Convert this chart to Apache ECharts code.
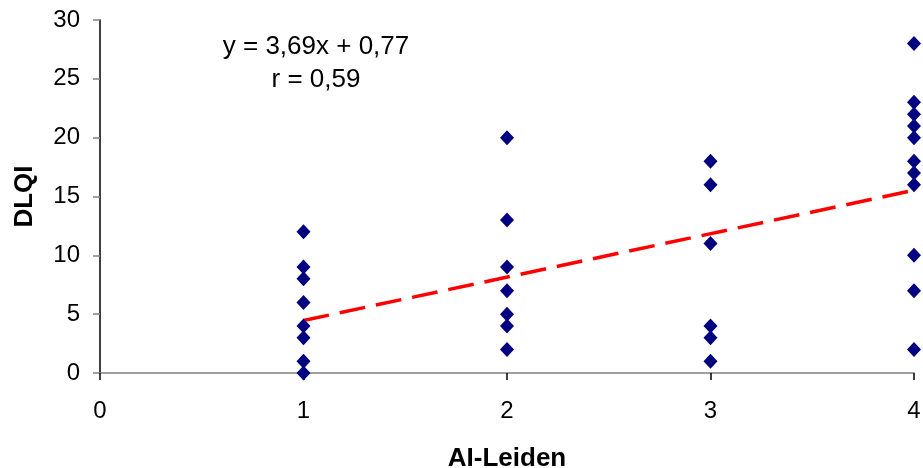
<!DOCTYPE html>
<html><head><meta charset="utf-8">
<script src="https://cdn.jsdelivr.net/npm/echarts@6/dist/echarts.min.js"></script>
<style>html,body{margin:0;padding:0;background:#fff}#c{width:923px;height:468px}</style>
</head><body><div id="c"></div>
<script>
const xValues = [1,1,1,1,1,1,1,1, 2,2,2,2,2,2,2, 3,3,3,3,3,3, 4,4,4,4,4,4,4,4,4,4,4];
const yValues = [12,9,8,6,4,3,1,0, 20,13,9,7,5,4,2, 18,16,11,4,3,1, 28,23,22,21,20,18,17,16,10,7,2];
const slope = 3.69, intercept = 0.77;
const trendX = [1, 4];
const equationText = 'y = 3,69x + 0,77';
const rText = 'r = 0,59';
const xTicks = [0,1,2,3,4];
const yTicks = [0,5,10,15,20,25,30];

const pts = xValues.map((x,i)=>[x, yValues[i]]);
const trend = trendX.map(x=>[x, slope*x+intercept]);
const chart = echarts.init(document.getElementById('c'));
const font = 'Liberation Sans, Arial, sans-serif';
chart.setOption({
  animation:false,
  grid:{left:100,right:9,top:20,bottom:95,containLabel:false,outerBoundsMode:'none'},
  xAxis:{type:'value',min:xTicks[0],max:xTicks[xTicks.length-1],interval:1,
    name:'AI-Leiden',nameLocation:'middle',nameGap:73,
    nameTextStyle:{fontFamily:font,fontWeight:'bold',fontSize:26,color:'#000'},
    axisLine:{lineStyle:{color:'#808080',width:1.5}},
    axisTick:{show:true,length:7,lineStyle:{color:'#000',width:1.5}},
    axisLabel:{fontFamily:font,fontSize:24,color:'#000',margin:26},
    splitLine:{show:false}},
  yAxis:{type:'value',min:yTicks[0],max:yTicks[yTicks.length-1],interval:5,
    name:'DLQI',nameLocation:'middle',nameGap:62,
    nameTextStyle:{fontFamily:font,fontWeight:'bold',fontSize:26,color:'#000'},
    axisLine:{show:true,lineStyle:{color:'#000',width:1.5}},
    axisTick:{show:true,length:7,lineStyle:{color:'#808080',width:1.5}},
    axisLabel:{fontFamily:font,fontSize:24,color:'#000',margin:20},
    splitLine:{show:false}},
  graphic:[
    {type:'text',style:{text:equationText,fontFamily:font,fontSize:26,fill:'#000',textAlign:'center',textVerticalAlign:'middle',x:316,y:47}},
    {type:'text',style:{text:rText,fontFamily:font,fontSize:26,fill:'#000',textAlign:'center',textVerticalAlign:'middle',x:316,y:80}}
  ],
  series:[
    {type:'line',data:trend,symbol:'none',z:1,
      lineStyle:{color:'#ff0000',width:3.5,type:[26,11]}},
    {type:'scatter',data:pts,symbol:'diamond',symbolSize:[14,15],z:2,
      itemStyle:{color:'#000080',opacity:1}}
  ]
});
</script></body></html>
